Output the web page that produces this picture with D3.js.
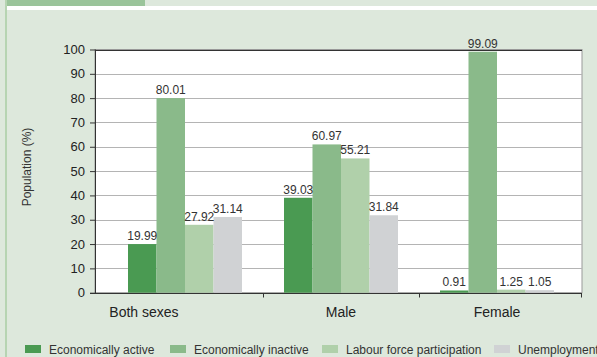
<!DOCTYPE html>
<html lang="en">
<head>
    <meta charset="UTF-8">
    <title>Population by economic activity</title>
    <script src="https://d3js.org/d3.v7.min.js"></script>
    <style>
        body { margin: 0; background: #dde8dc; }
        svg { display: block; font-family: "Liberation Sans", Arial, sans-serif; }
        .grid line { stroke: #b4b4b4; stroke-width: 1; }
        .val { font-family: "Liberation Sans Narrow", "Arial Narrow", "Liberation Sans", sans-serif; font-size: 12px; fill: #333; text-anchor: middle; }
    </style>
</head>
<body>
    <svg id="chart"></svg>
    <script>
        const width = 597;
        const height = 357;

        // data
        const categories = ['Both sexes', 'Male', 'Female'];
        const seriesNames = ['Economically active', 'Economically inactive', 'Labour force participation', 'Unemployment'];
        const econActive = [19.99, 39.03, 0.91];
        const econInactive = [80.01, 60.97, 99.09];
        const labourForce = [27.92, 55.21, 1.25];
        const unemployment = [31.14, 31.84, 1.05];
        const yTicks = [0, 10, 20, 30, 40, 50, 60, 70, 80, 90, 100];
        const colors = ['#4a9a52', '#8aba8a', '#b0d0aa', '#d0d2d4'];

        const series = [econActive, econInactive, labourForce, unemployment];

        const svg = d3.select('#chart')
            .attr('width', width)
            .attr('height', height);

        // background bits
        svg.append('rect').attr('x', 0).attr('y', 0).attr('width', width).attr('height', height).attr('fill', '#dde8dc');
        svg.append('rect').attr('x', 6).attr('y', 0).attr('width', 139).attr('height', 6).attr('fill', '#9ac49a');
        svg.append('rect').attr('x', 6).attr('y', 6).attr('width', width).attr('height', 4).attr('fill', '#ffffff');
        svg.append('rect').attr('x', 5).attr('y', 0).attr('width', 2).attr('height', height).attr('fill', '#b6d4b2');

        const plot = { left: 95, right: 582, top: 49.5, bottom: 292.7 };

        const x = d3.scaleBand()
            .domain(categories)
            .range([107, 575]);

        const xInner = d3.scaleBand()
            .domain(d3.range(series.length))
            .range([0, x.bandwidth()])
            .paddingOuter(0.737)
            .paddingInner(0);

        const y = d3.scaleLinear()
            .domain([0, 100])
            .range([plot.bottom, plot.top]);

        // plot background
        svg.append('rect')
            .attr('x', plot.left).attr('y', plot.top)
            .attr('width', plot.right - plot.left).attr('height', plot.bottom - plot.top)
            .attr('fill', '#fff')
            .attr('stroke', '#999');

        // gridlines
        svg.append('g').attr('class', 'grid')
            .selectAll('line')
            .data(yTicks.slice(1))
            .enter().append('line')
            .attr('x1', plot.left).attr('x2', plot.right)
            .attr('y1', d => Math.round(y(d)) + 0.5).attr('y2', d => Math.round(y(d)) + 0.5);

        // top border dark
        svg.append('line')
            .attr('x1', plot.left).attr('x2', plot.right)
            .attr('y1', Math.round(y(100)) + 0.5).attr('y2', Math.round(y(100)) + 0.5)
            .attr('stroke', '#333');

        // bars
        const groups = svg.append('g').selectAll('g')
            .data(categories)
            .enter().append('g')
            .attr('transform', d => `translate(${x(d)},0)`);

        groups.selectAll('rect')
            .data((d, i) => series.map((s, k) => ({ k: k, v: s[i] })))
            .enter().append('rect')
            .attr('x', d => xInner(d.k))
            .attr('width', xInner.bandwidth())
            .attr('y', d => y(d.v))
            .attr('height', d => y(0) - y(d.v))
            .attr('fill', d => colors[d.k]);

        groups.selectAll('text')
            .data((d, i) => series.map((s, k) => ({ k: k, v: s[i] })))
            .enter().append('text')
            .attr('class', 'val')
            .attr('x', d => xInner(d.k) + xInner.bandwidth() / 2)
            .attr('y', d => y(d.v) - 4)
            .text(d => d.v.toFixed(2));

        // y axis
        const yAxis = svg.append('g')
            .attr('transform', `translate(${plot.left},0)`)
            .call(d3.axisLeft(y).tickValues(yTicks).tickSize(5).tickPadding(5));
        yAxis.selectAll('text').style('font-size', '13px').attr('fill', '#222');
        yAxis.selectAll('line, path').attr('stroke', '#333');
        yAxis.select('.domain').attr('d', `M0.5,${plot.top}V${plot.bottom + 0.5}`);

        // x axis
        const xAxisG = svg.append('g')
            .attr('transform', `translate(0,${Math.round(plot.bottom) + 0.5})`);
        xAxisG.append('line')
            .attr('x1', plot.left - 5).attr('x2', plot.right)
            .attr('stroke', '#333');
        xAxisG.selectAll('.tick')
            .data(categories.slice(1))
            .enter().append('line')
            .attr('x1', d => Math.round(x(d)) + 0.5).attr('x2', d => Math.round(x(d)) + 0.5)
            .attr('y1', 0).attr('y2', 4)
            .attr('stroke', '#333');
        xAxisG.append('line')
            .attr('x1', plot.right - 0.5).attr('x2', plot.right - 0.5)
            .attr('y1', 0).attr('y2', 4)
            .attr('stroke', '#333');

        const labelShift = [-41, 0, 0];
        xAxisG.selectAll('text')
            .data(categories)
            .enter().append('text')
            .attr('x', (d, i) => x(d) + x.bandwidth() / 2 + labelShift[i])
            .attr('y', 23)
            .attr('text-anchor', 'middle')
            .style('font-size', '14px')
            .attr('fill', '#222')
            .text(d => d);

        // y label
        svg.append('text')
            .attr('transform', 'translate(31,167) rotate(-90)')
            .attr('text-anchor', 'middle')
            .style('font-size', '12px')
            .attr('fill', '#333')
            .text('Population (%)');

        // legend
        const legendX = [25, 170, 322, 494];
        const legend = svg.append('g').selectAll('g')
            .data(seriesNames)
            .enter().append('g')
            .attr('transform', (d, i) => `translate(${legendX[i]},345)`);
        legend.append('rect')
            .attr('width', 16).attr('height', 8)
            .attr('fill', (d, i) => colors[i]);
        legend.append('text')
            .attr('x', 24).attr('y', 8.5)
            .style('font-size', '12px')
            .attr('fill', '#333')
            .text(d => d);
    </script>
</body>
</html>
